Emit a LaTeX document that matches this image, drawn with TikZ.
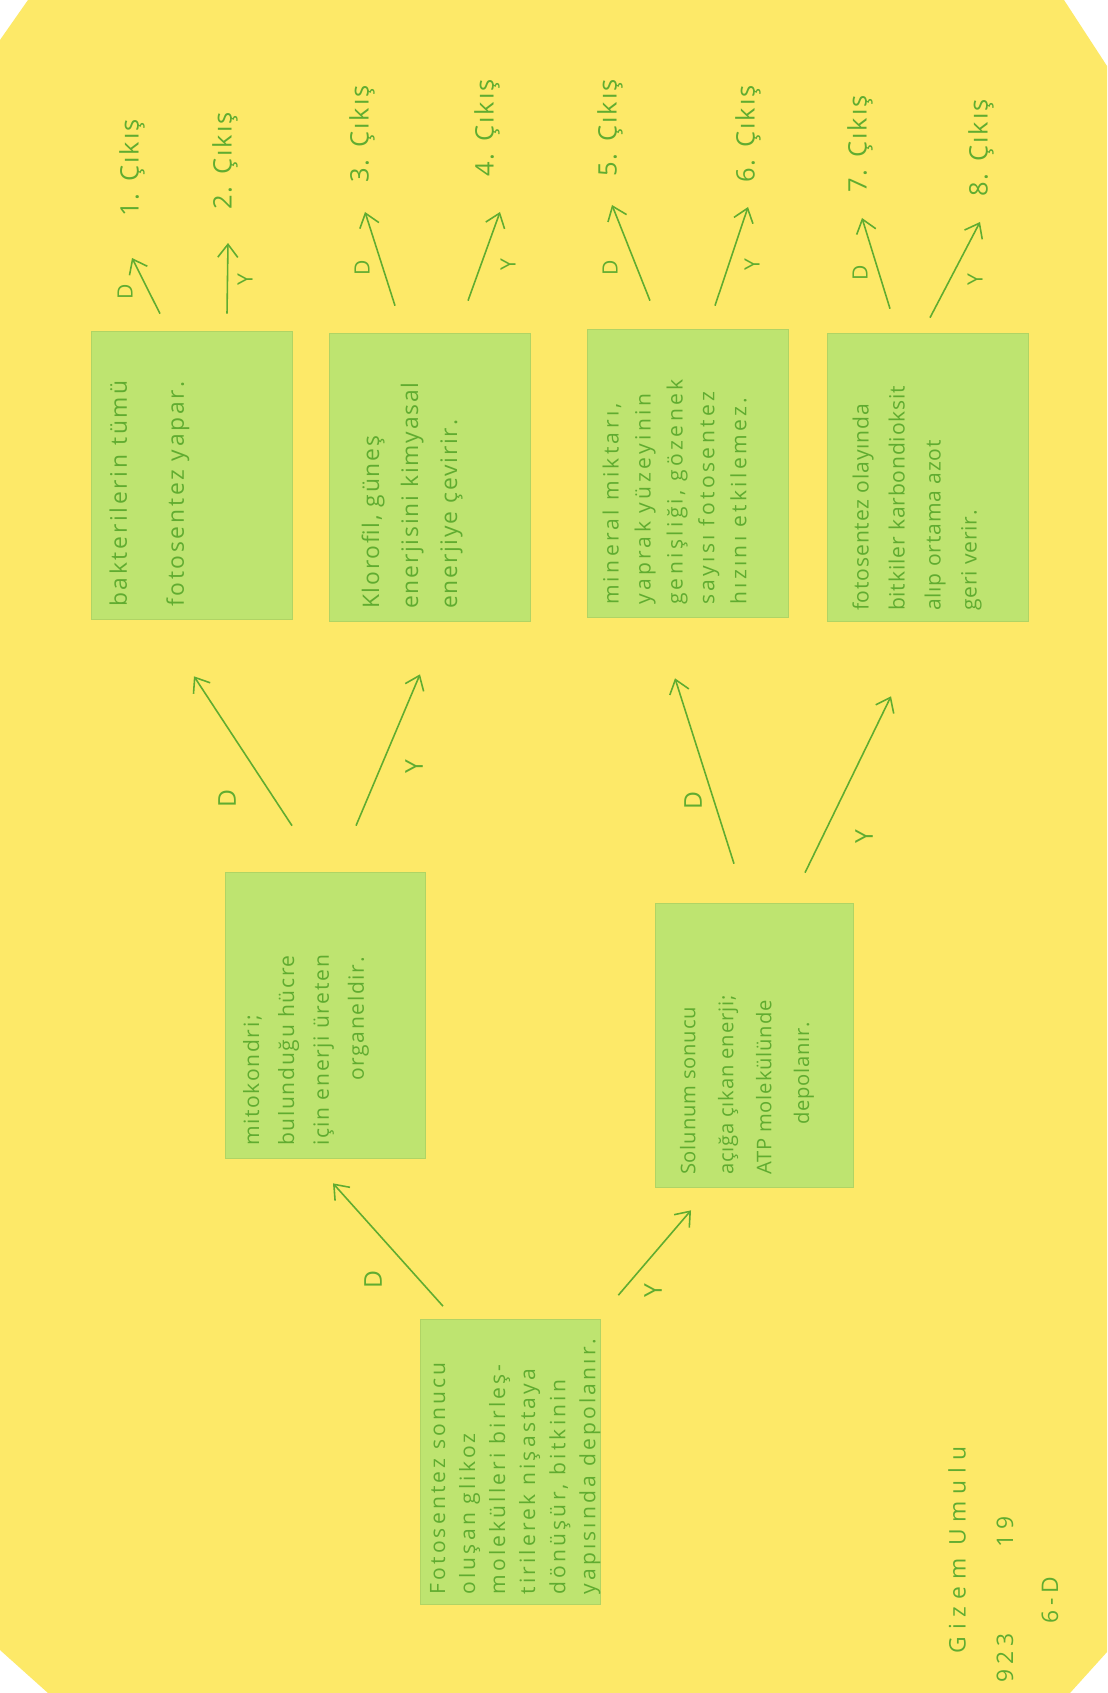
\documentclass[tikz,border=0pt]{standalone}
\usepackage{fontspec}
\setmainfont{Open Sans}
\newfontfamily\hand[LetterSpace=8]{Open Sans}
\usepackage{tikz}
\usetikzlibrary{arrows.meta,positioning,calc}
\definecolor{cpaper}{RGB}{253,233,104}
\definecolor{ccard}{RGB}{190,228,112}
\definecolor{cedge}{RGB}{176,212,100}
\definecolor{cink}{RGB}{96,172,48}

\begin{document}
\begin{tikzpicture}[x=0.02cm, y=-0.02cm,
    every node/.style={text=cink},
    card/.style={fill=ccard, draw=cedge, line width=0.4pt, inner sep=0pt},
    leaf/.style={card, minimum width=4.02cm, minimum height=5.76cm},
    cardtext/.style={rotate=90, anchor=north west, align=left, inner sep=0pt},
    outlab/.style={rotate=90, anchor=west, inner sep=0pt, font=\hand\fontsize{14.5}{16}\selectfont},
    yn/.style={rotate=90, inner sep=0pt, font=\hand\fontsize{12}{14}\selectfont},
    arr/.style={draw=cink, line width=0.9pt, -{Straight Barb[length=2.6mm, width=4mm]}}]
  % paper
  \fill[white] (0,0) rectangle (1107,1693);
  \fill[cpaper] (28,0) -- (1064,0) -- (1107,66) -- (1107,1652) -- (1070,1693)
    -- (48,1693) -- (0,1650) -- (0,40) -- cycle;
  \useasboundingbox (0,0) rectangle (1107,1693);

  % cards
  \node[card, minimum width=3.6cm, minimum height=5.7cm] (root) at (510,1462) {};
  \node[card, minimum width=4cm, minimum height=5.72cm] (mt) at (325,1015) {};
  \node[card, minimum width=3.96cm, minimum height=5.68cm] (mb) at (754,1045) {};
  \node[leaf] (l1) at (192,475) {};
  \node[leaf] (l2) at (430,477) {};
  \node[leaf] (l3) at (688,473) {};
  \node[leaf] (l4) at (928,477) {};

  \node[cardtext, font=\hand\fontsize{12}{17.1}\selectfont\addfontfeature{LetterSpace=15}]
    (roottxt) at ($(root.south west)+(10,-10)$)
    {Fotosentez sonucu\\oluşan glikoz\\molekülleri birleş-\\tirilerek nişastaya\\dönüşür, bitkinin\\yapısında depolanır.};
  \node[cardtext, font=\hand\fontsize{12}{19.9}\selectfont]
    (mttxt) at ($(mt.south west)+(18,-12)$)
    {mitokondri;\\bulunduğu hücre\\için enerji üreten\\\hspace*{1.3cm}organeldir.};
  \node[cardtext, font=\hand\fontsize{11.5}{21.6}\selectfont\addfontfeature{LetterSpace=4}]
    (mbtxt) at ($(mb.south west)+(25,-12)$)
    {Solunum sonucu\\açığa çıkan enerji;\\ATP molekülünde\\\hspace*{1cm}depolanır.};
  \node[cardtext, font=\hand\fontsize{13}{32.4}\selectfont\addfontfeature{LetterSpace=12}]
    (l1txt) at ($(l1.south west)+(18,-12)$)
    {bakterilerin tümü\\fotosentez yapar.};
  \node[cardtext, font=\hand\fontsize{13}{22.2}\selectfont]
    (l2txt) at ($(l2.south west)+(32,-12)$)
    {Klorofil, güneş\\enerjisini kimyasal\\enerjiye çevirir.};
  \node[cardtext, font=\hand\fontsize{12}{18.2}\selectfont\addfontfeature{LetterSpace=16}]
    (l3txt) at ($(l3.south west)+(15,-12)$)
    {mineral miktarı,\\yaprak yüzeyinin\\genişliği, gözenek\\sayısı fotosentez\\hızını etkilemez.};
  \node[cardtext, font=\hand\fontsize{12}{20.5}\selectfont\addfontfeature{LetterSpace=4}]
    (l4txt) at ($(l4.south west)+(25,-10)$)
    {fotosentez olayında\\bitkiler karbondioksit\\alıp ortama azot\\geri verir.};

  % outputs
  \node[outlab] (o1) at (132,217) {1. Çıkış};
  \node[outlab] (o2) at (225,210) {2. Çıkış};
  \node[outlab] (o3) at (362,183) {3. Çıkış};
  \node[outlab] (o4) at (487,177) {4. Çıkış};
  \node[outlab] (o5) at (610,177) {5. Çıkış};
  \node[outlab] (o6) at (748,183) {6. Çıkış};
  \node[outlab] (o7) at (860,193) {7. Çıkış};
  \node[outlab] (o8) at (981,197) {8. Çıkış};

  % arrows between cards
  \draw[arr] ($(root.north)+(-67,-13)$) -- ($(mt.south)+(8,25)$);
  \draw[arr] ($(root.north east)+(18,-24)$) -- ($(mb.south)+(-63,23)$);
  \draw[arr] ($(mt.north)+(-33,-46)$) -- ($(l1.south)+(2,57)$);
  \draw[arr] ($(mt.north)+(31,-46)$) -- ($(l2.south)+(-10,53)$);
  \draw[arr] ($(mb.north)+(-20,-39)$) -- ($(l3.south)+(-13,61)$);
  \draw[arr] ($(mb.north)+(51,-30)$) -- ($(l4.south)+(-37,75)$);

  % arrows to outputs
  \draw[arr] ($(l1.north)+(-32,-17)$) -- ($(o1.west)+(0,41)$);
  \draw[arr] ($(l1.north)+(35,-17)$) -- ($(o2.west)+(3,33)$);
  \draw[arr] ($(l2.north)+(-35,-27)$) -- ($(o3.west)+(3,29)$);
  \draw[arr] ($(l2.north)+(38,-32)$) -- ($(o4.west)+(13,35)$);
  \draw[arr] ($(l3.north)+(-38,-28)$) -- ($(o5.west)+(2,28)$);
  \draw[arr] ($(l3.north)+(27,-23)$) -- ($(o6.west)+(0,24)$);
  \draw[arr] ($(l4.north)+(-38,-24)$) -- ($(o7.west)+(2,25)$);
  \draw[arr] ($(l4.north)+(2,-15)$) -- ($(o8.west)+(-1,25)$);

  % D / Y labels
  \node[yn, font=\hand\fontsize{14}{16}\selectfont] (dr) at (373,1280) {D};
  \node[yn, font=\hand\fontsize{14}{16}\selectfont] (yr) at (653,1291) {Y};
  \node[yn, font=\hand\fontsize{14}{16}\selectfont] (dmt) at (227,799) {D};
  \node[yn, font=\hand\fontsize{14}{16}\selectfont] (ymt) at (414,767) {Y};
  \node[yn, font=\hand\fontsize{14}{16}\selectfont] (dmb) at (693,801) {D};
  \node[yn, font=\hand\fontsize{14}{16}\selectfont] (ymb) at (864,837) {Y};
  \node[yn] (d1) at (125,292) {D};
  \node[yn] (y2) at (245,280) {Y};
  \node[yn] (d3) at (362,268) {D};
  \node[yn] (y4) at (508,265) {Y};
  \node[yn] (d5) at (610,268) {D};
  \node[yn] (y6) at (752,265) {Y};
  \node[yn] (d7) at (860,273) {D};
  \node[yn] (y8) at (975,280) {Y};

  % name
  \node[yn, font=\hand\fontsize{13}{15}\selectfont\addfontfeature{LetterSpace=30}] (name) at (957,1550) {Gizem Umulu};
  \node[yn, font=\hand\fontsize{13}{15}\selectfont\addfontfeature{LetterSpace=20}] (num) at (1005,1658) {923};
  \node[yn, font=\hand\fontsize{13}{15}\selectfont\addfontfeature{LetterSpace=20}] (age) at (1005,1532) {19};
  \node[yn, font=\hand\fontsize{13}{15}\selectfont\addfontfeature{LetterSpace=20}] (cls) at (1050,1600) {6-D};
\end{tikzpicture}
\end{document}
